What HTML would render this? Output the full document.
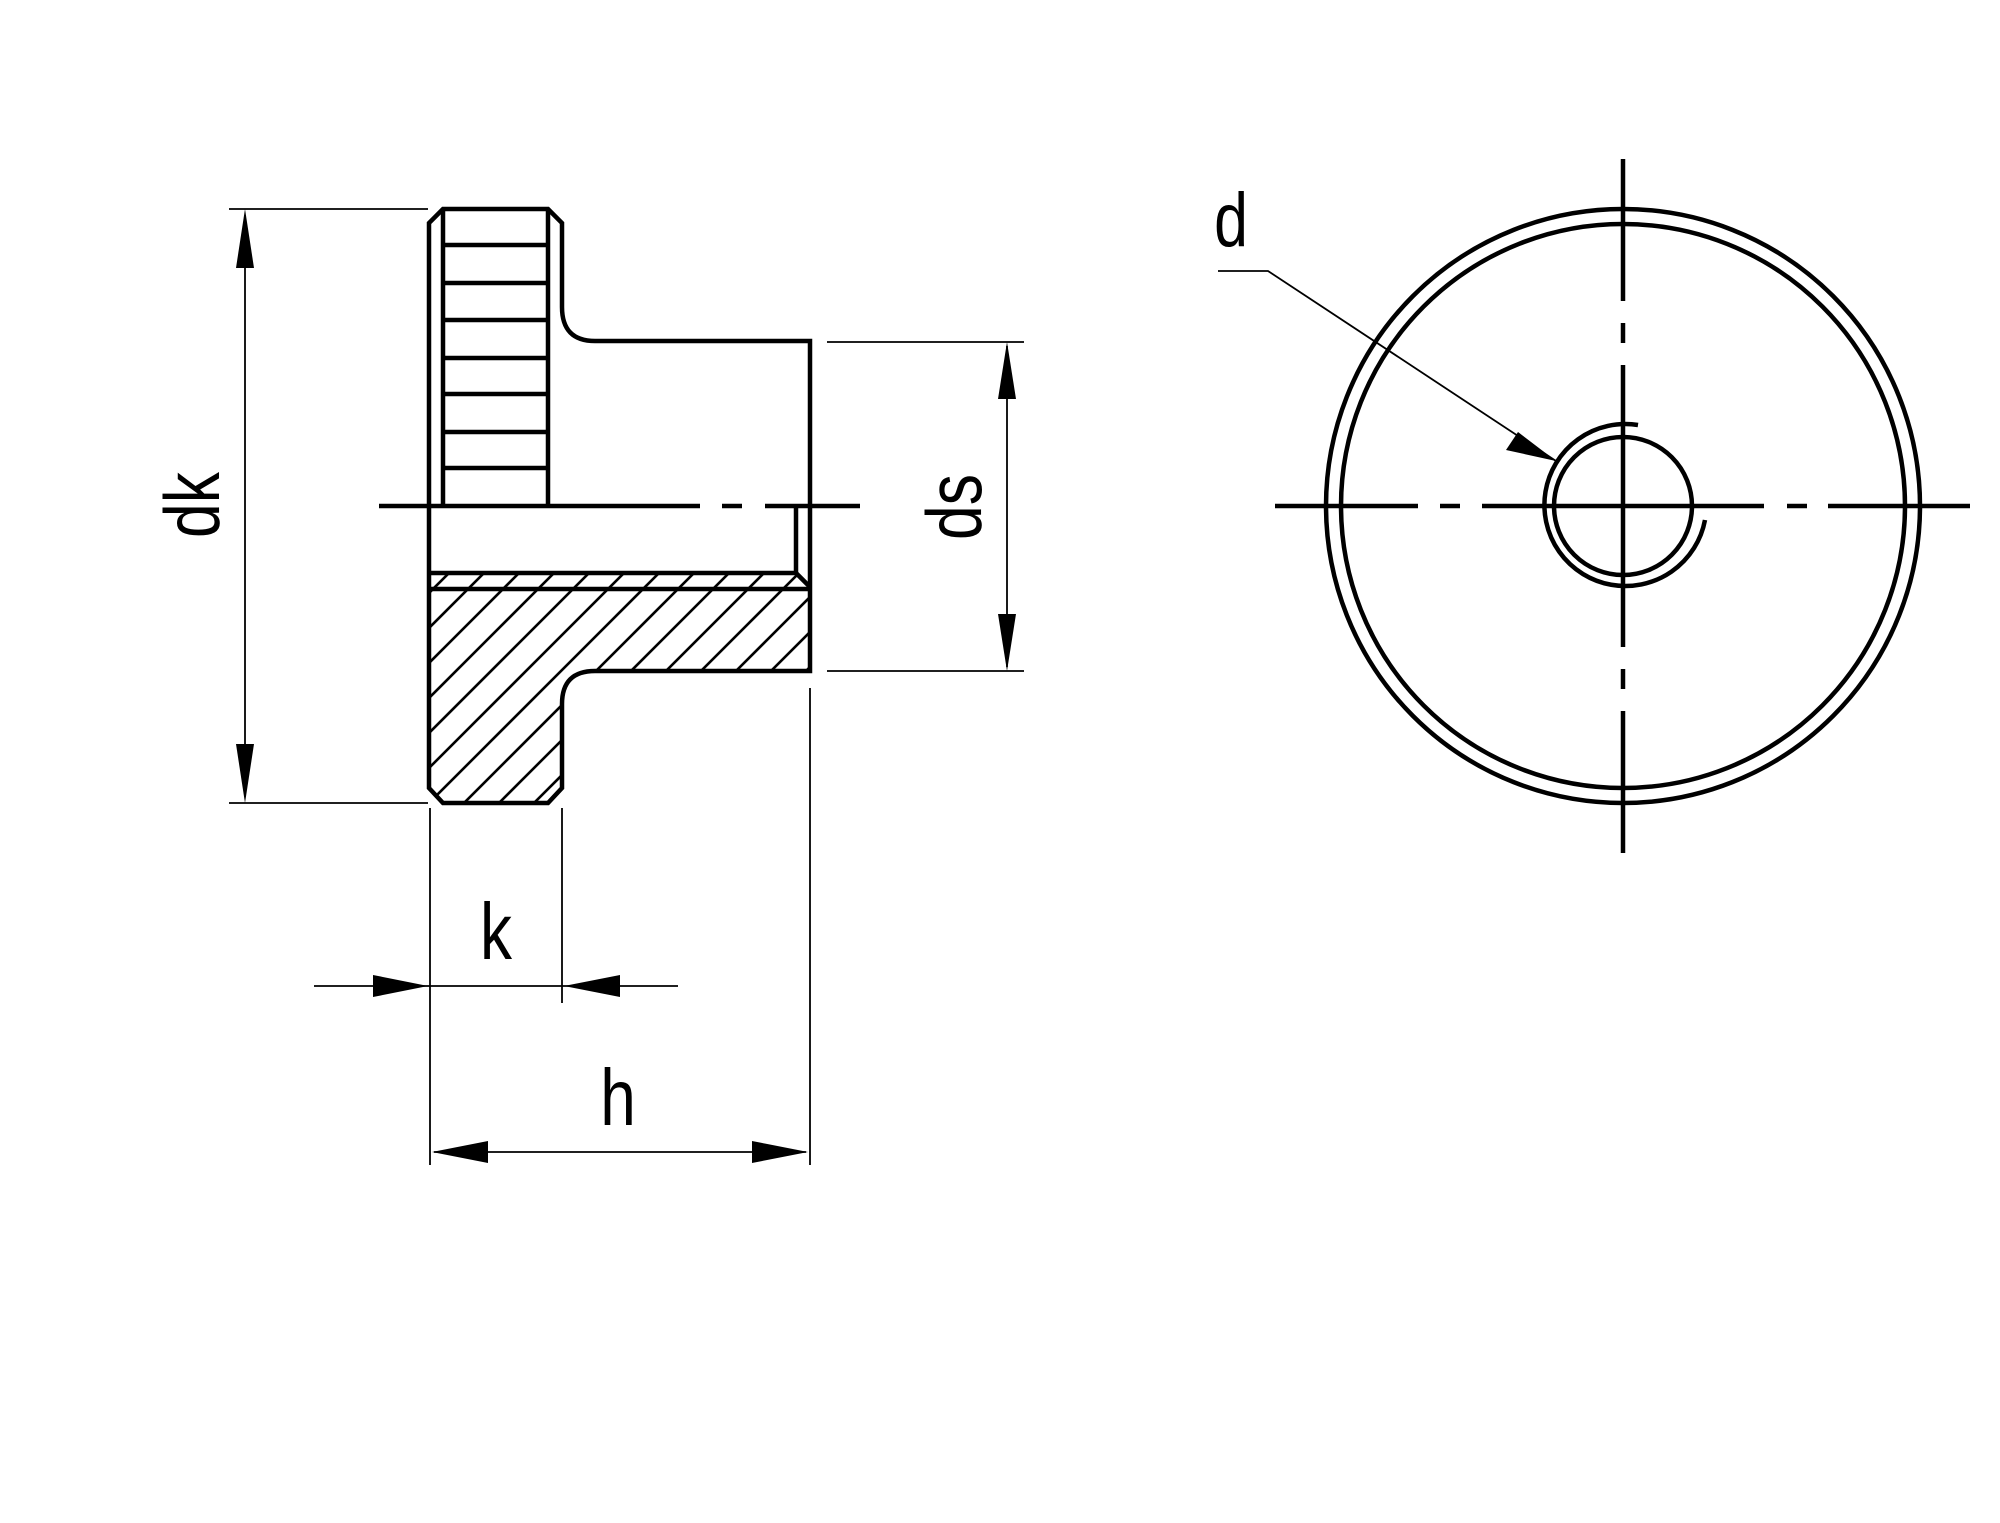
<!DOCTYPE html>
<html><head><meta charset="utf-8"><style>
html,body{margin:0;padding:0;background:#fff;}
svg{display:block;}
text{font-family:"Liberation Sans",sans-serif;fill:#000;}
</style></head><body>
<svg width="2000" height="1523" viewBox="0 0 2000 1523" xmlns="http://www.w3.org/2000/svg">
<defs>
<clipPath id="hc"><path d="M429,573 L796,573 L810,587 L810,671 L595,671 Q562,671 562,704 L562,788 L548,803 L443,803 L429,788 Z"/></clipPath>
</defs>
<g clip-path="url(#hc)" stroke="#000" stroke-width="2.6">
<line x1="122" y1="900" x2="522" y2="500"/>
<line x1="157" y1="900" x2="557" y2="500"/>
<line x1="192" y1="900" x2="592" y2="500"/>
<line x1="227" y1="900" x2="627" y2="500"/>
<line x1="262" y1="900" x2="662" y2="500"/>
<line x1="297" y1="900" x2="697" y2="500"/>
<line x1="332" y1="900" x2="732" y2="500"/>
<line x1="367" y1="900" x2="767" y2="500"/>
<line x1="402" y1="900" x2="802" y2="500"/>
<line x1="437" y1="900" x2="837" y2="500"/>
<line x1="472" y1="900" x2="872" y2="500"/>
<line x1="507" y1="900" x2="907" y2="500"/>
<line x1="542" y1="900" x2="942" y2="500"/>
<line x1="577" y1="900" x2="977" y2="500"/>
<line x1="612" y1="900" x2="1012" y2="500"/>
</g>
<g fill="none" stroke="#000" stroke-width="4.5" stroke-linejoin="miter">
<path d="M443,209 L548,209 L562,223 L562,307 Q562,341 595,341 L810,341 L810,671 L595,671 Q562,671 562,704 L562,788 L548,803 L443,803 L429,788 L429,223 Z"/>
<line x1="443" y1="209" x2="443" y2="506"/>
<line x1="548" y1="209" x2="548" y2="506"/>
<line x1="443" y1="245" x2="548" y2="245"/>
<line x1="443" y1="283" x2="548" y2="283"/>
<line x1="443" y1="320" x2="548" y2="320"/>
<line x1="443" y1="358" x2="548" y2="358"/>
<line x1="443" y1="394" x2="548" y2="394"/>
<line x1="443" y1="432" x2="548" y2="432"/>
<line x1="443" y1="468" x2="548" y2="468"/>
<path d="M429,573 L796,573 L796,506"/>
<line x1="796" y1="573" x2="810" y2="587"/>
<line x1="429" y1="589" x2="810" y2="589"/>
<line x1="379" y1="506" x2="700" y2="506"/>
<line x1="722" y1="506" x2="742" y2="506"/>
<line x1="765" y1="506" x2="860" y2="506"/>
<circle cx="1623" cy="506" r="297"/>
<circle cx="1623" cy="506" r="282"/>
<circle cx="1623" cy="506" r="69"/>
<path d="M1638,425 A81,81 0 1 0 1705,520"/>
<line x1="1275" y1="506" x2="1418" y2="506"/>
<line x1="1440" y1="506" x2="1460" y2="506"/>
<line x1="1482" y1="506" x2="1764" y2="506"/>
<line x1="1787" y1="506" x2="1807" y2="506"/>
<line x1="1828" y1="506" x2="1970" y2="506"/>
<line x1="1623" y1="159" x2="1623" y2="301"/>
<line x1="1623" y1="323" x2="1623" y2="343"/>
<line x1="1623" y1="365" x2="1623" y2="647"/>
<line x1="1623" y1="669" x2="1623" y2="689"/>
<line x1="1623" y1="711" x2="1623" y2="853"/>
</g>
<g fill="none" stroke="#000" stroke-width="1.8">
<line x1="229" y1="209" x2="428" y2="209"/>
<line x1="229" y1="803" x2="428" y2="803"/>
<line x1="245" y1="215" x2="245" y2="797"/>
<line x1="827" y1="342" x2="1024" y2="342"/>
<line x1="827" y1="671" x2="1024" y2="671"/>
<line x1="1007" y1="346" x2="1007" y2="667"/>
<line x1="430" y1="808" x2="430" y2="1165"/>
<line x1="562" y1="808" x2="562" y2="1003"/>
<line x1="810" y1="688" x2="810" y2="1165"/>
<line x1="314" y1="986" x2="678" y2="986"/>
<line x1="434" y1="1152" x2="806" y2="1152"/>
<path d="M1218,271 L1268,271 L1556,461"/>
</g>
<g fill="#000" stroke="none">
<path d="M245,209 L254,268 L236,268 Z"/>
<path d="M245,803 L254,744 L236,744 Z"/>
<path d="M1007,342 L1016,399 L998,399 Z"/>
<path d="M1007,671 L1016,614 L998,614 Z"/>
<path d="M428,986 L373,975 L373,997 Z"/>
<path d="M564,986 L620,975 L620,997 Z"/>
<path d="M432,1152 L488,1141 L488,1163 Z"/>
<path d="M808,1152 L752,1141 L752,1163 Z"/>
<path d="M1556,461 L1506,450 L1518,432 Z"/>
</g>
<text transform="translate(219,505) rotate(-90) scale(0.8,1)" text-anchor="middle" font-size="78">dk</text>
<text transform="translate(981,507) rotate(-90) scale(0.8,1)" text-anchor="middle" font-size="78">ds</text>
<text transform="translate(496,959) scale(0.8,1)" text-anchor="middle" font-size="80">k</text>
<text transform="translate(618,1125) scale(0.8,1)" text-anchor="middle" font-size="80">h</text>
<text transform="translate(1231,246) scale(0.8,1)" text-anchor="middle" font-size="76">d</text>
</svg>
</body></html>
